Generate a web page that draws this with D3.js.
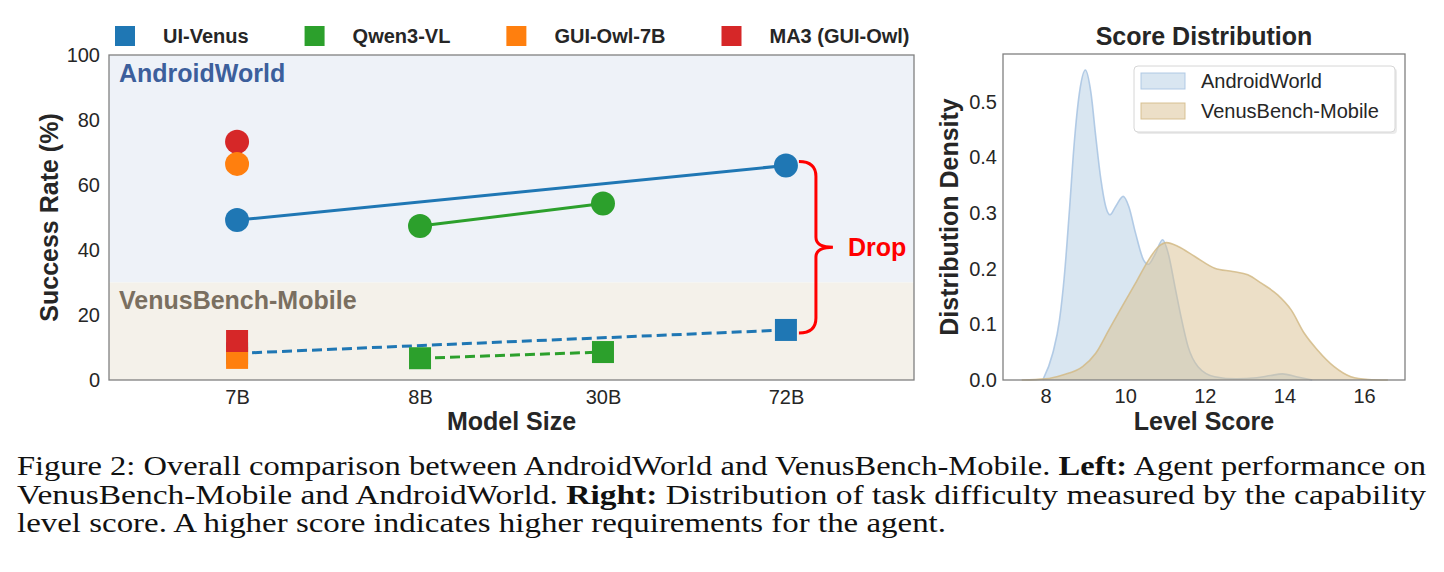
<!DOCTYPE html>
<html>
<head>
<meta charset="utf-8">
<script src="https://cdn.jsdelivr.net/npm/d3@7.9.0/dist/d3.min.js"></script>
<style>
  html, body { margin: 0; padding: 0; background: #fff; }
  svg { display: block; }
  .sans { font-family: "Liberation Sans", Arial, sans-serif; }
</style>
</head>
<body>
<svg id="fig" width="1444" height="572"></svg>
<script>
// ---- data ----
const sizes = ['7B', '8B', '30B', '72B'];
const models = ['UI-Venus', 'Qwen3-VL', 'GUI-Owl-7B', 'MA3 (GUI-Owl)'];
const modelColors = ['#1f77b4', '#2ca02c', '#ff7f0e', '#d62728'];

const uiVenusSizes = ['7B', '72B'];
const uiVenusAW = [49.2, 66.0];
const uiVenusVB = [8.2, 15.4];

const qwenSizes = ['8B', '30B'];
const qwenAW = [47.4, 54.3];
const qwenVB = [6.7, 8.6];

const guiOwlSizes = ['7B'];
const guiOwlAW = [66.5];
const guiOwlVB = [6.8];

const ma3Sizes = ['7B'];
const ma3AW = [73.3];
const ma3VB = [12.0];

const bandSplit = 30;
const yTicksLeft = [0, 20, 40, 60, 80, 100];

// KDE curves (level score, density)
const awScore = [7.93, 8.18, 8.35, 8.47, 8.6, 8.72, 8.85, 9.0, 9.14, 9.26, 9.39, 9.51, 9.62, 9.76, 9.95, 10.09, 10.26, 10.46, 10.58, 10.75, 10.94, 11.08, 11.25, 11.42, 11.58, 11.83, 12.25, 12.8, 13.3, 13.65, 13.95, 14.3, 14.7];
const awDensity = [0.0, 0.048, 0.108, 0.186, 0.306, 0.426, 0.516, 0.557, 0.516, 0.438, 0.36, 0.312, 0.297, 0.312, 0.33, 0.312, 0.264, 0.216, 0.208, 0.226, 0.252, 0.228, 0.168, 0.108, 0.06, 0.024, 0.006, 0.002, 0.004, 0.008, 0.011, 0.006, 0.0];

const vbScore = [7.4, 8.0, 8.43, 8.93, 9.26, 9.59, 9.92, 10.26, 10.59, 10.84, 11.04, 11.33, 11.75, 12.25, 12.7, 13.08, 13.42, 13.83, 14.17, 14.5, 14.83, 15.25, 15.67, 16.1, 16.6];
const vbDensity = [0.0, 0.002, 0.009, 0.024, 0.048, 0.09, 0.132, 0.174, 0.216, 0.24, 0.247, 0.24, 0.222, 0.201, 0.195, 0.189, 0.174, 0.153, 0.126, 0.084, 0.054, 0.024, 0.006, 0.001, 0.0];
const xTicksRight = [8, 10, 12, 14, 16];
const yTicksRight = [0, 0.1, 0.2, 0.3, 0.4, 0.5];

const captionLines = [
  [['Figure 2: Overall comparison between AndroidWorld and VenusBench-Mobile. ', false], ['Left:', true], [' Agent performance on', false]],
  [['VenusBench-Mobile and AndroidWorld. ', false], ['Right:', true], [' Distribution of task difficulty measured by the capability', false]],
  [['level score. A higher score indicates higher requirements for the agent.', false]]
];

// ---- drawing ----
const svg = d3.select('#fig');
const ink = '#262626';

// left panel
const L = { left: 109, right: 914, top: 55, bottom: 380 };
const x = d3.scalePoint().domain(sizes).range([L.left, L.right]).padding(0.7);
const y = d3.scaleLinear().domain([0, 100]).range([L.bottom, L.top]);
const color = d3.scaleOrdinal().domain(models).range(modelColors);

const left = svg.append('g').attr('class', 'sans');

left.append('rect')
  .attr('x', L.left).attr('y', y(100))
  .attr('width', L.right - L.left).attr('height', y(bandSplit) - y(100))
  .attr('fill', '#eef2f8');
left.append('rect')
  .attr('x', L.left).attr('y', y(bandSplit))
  .attr('width', L.right - L.left).attr('height', y(0) - y(bandSplit))
  .attr('fill', '#f4f1ea');

left.append('text')
  .attr('x', L.left + 10).attr('y', 82)
  .attr('font-size', 25).attr('font-weight', 'bold').attr('fill', '#3c5f9c')
  .text('AndroidWorld');
left.append('text')
  .attr('x', L.left + 10).attr('y', 309)
  .attr('font-size', 25).attr('font-weight', 'bold').attr('fill', '#7a6f60')
  .text('VenusBench-Mobile');

const yAxisL = left.append('g')
  .attr('transform', `translate(${L.left},0)`)
  .call(d3.axisLeft(y).tickValues(yTicksLeft).tickSize(0).tickPadding(9));
const xAxisL = left.append('g')
  .attr('transform', `translate(0,${L.bottom})`)
  .call(d3.axisBottom(x).tickSize(0).tickPadding(10));
[yAxisL, xAxisL].forEach(g => {
  g.select('.domain').remove();
  g.selectAll('text').attr('font-size', 20).attr('fill', ink)
    .attr('font-family', '"Liberation Sans", Arial, sans-serif');
});

left.append('rect')
  .attr('x', L.left).attr('y', L.top)
  .attr('width', L.right - L.left).attr('height', L.bottom - L.top)
  .attr('fill', 'none').attr('stroke', '#808080').attr('stroke-width', 1.3);

const series = [
  { model: 'UI-Venus', sizes: uiVenusSizes, aw: uiVenusAW, vb: uiVenusVB },
  { model: 'Qwen3-VL', sizes: qwenSizes, aw: qwenAW, vb: qwenVB },
  { model: 'GUI-Owl-7B', sizes: guiOwlSizes, aw: guiOwlAW, vb: guiOwlVB },
  { model: 'MA3 (GUI-Owl)', sizes: ma3Sizes, aw: ma3AW, vb: ma3VB }
];

const line = d3.line().x(d => x(d[0])).y(d => y(d[1]));
series.filter(s => s.sizes.length > 1).forEach(s => {
  left.append('path')
    .attr('d', line(s.sizes.map((k, i) => [k, s.aw[i]])))
    .attr('fill', 'none').attr('stroke', color(s.model)).attr('stroke-width', 3);
  left.append('path')
    .attr('d', line(s.sizes.map((k, i) => [k, s.vb[i]])))
    .attr('fill', 'none').attr('stroke', color(s.model)).attr('stroke-width', 3)
    .attr('stroke-dasharray', '10,5');
});

// markers: circle order puts GUI-Owl above MA3, square order the reverse
const circleOrder = ['UI-Venus', 'Qwen3-VL', 'MA3 (GUI-Owl)', 'GUI-Owl-7B'];
const squareOrder = ['UI-Venus', 'Qwen3-VL', 'GUI-Owl-7B', 'MA3 (GUI-Owl)'];
circleOrder.forEach(m => {
  const s = series.find(d => d.model === m);
  left.selectAll(null)
    .data(s.sizes.map((k, i) => [k, s.aw[i]]))
    .join('circle')
    .attr('cx', d => x(d[0])).attr('cy', d => y(d[1])).attr('r', 12)
    .attr('fill', color(m));
});
const sq = 22;
squareOrder.forEach(m => {
  const s = series.find(d => d.model === m);
  left.selectAll(null)
    .data(s.sizes.map((k, i) => [k, s.vb[i]]))
    .join('rect')
    .attr('x', d => x(d[0]) - sq / 2).attr('y', d => y(d[1]) - sq / 2)
    .attr('width', sq).attr('height', sq)
    .attr('fill', color(m));
});

// drop brace on the largest UI-Venus model
const bx = x('72B');
const yTop = y(uiVenusAW[1]) - 4;
const yBot = y(uiVenusVB[1]) + 3;
const x0 = bx + 13, xm = x0 + 17, xt = xm + 17, ym = (yTop + yBot) / 2;
const brace = d3.path();
brace.moveTo(x0, yTop);
brace.quadraticCurveTo(xm, yTop, xm, yTop + 15);
brace.lineTo(xm, ym - 10);
brace.quadraticCurveTo(xm, ym, xt, ym);
brace.quadraticCurveTo(xm, ym, xm, ym + 10);
brace.lineTo(xm, yBot - 15);
brace.quadraticCurveTo(xm, yBot, x0, yBot);
left.append('path').attr('d', brace.toString())
  .attr('fill', 'none').attr('stroke', '#ff0000').attr('stroke-width', 3);
left.append('text')
  .attr('x', xt + 15).attr('y', ym + 9)
  .attr('font-size', 25).attr('font-weight', 'bold').attr('fill', '#ff0000')
  .text('Drop');

// top legend
let lx = 115;
models.forEach(m => {
  left.append('rect').attr('x', lx).attr('y', 26).attr('width', 20).attr('height', 20)
    .attr('fill', color(m));
  const t = left.append('text').attr('x', lx + 48).attr('y', 43)
    .attr('font-size', 20).attr('font-weight', 'bold').attr('fill', ink).text(m);
  lx += 48 + t.node().getComputedTextLength() + 56;
});

left.append('text')
  .attr('transform', `translate(58,${(L.top + L.bottom) / 2}) rotate(-90)`)
  .attr('text-anchor', 'middle').attr('font-size', 25).attr('font-weight', 'bold')
  .attr('fill', ink).text('Success Rate (%)');
left.append('text')
  .attr('x', (L.left + L.right) / 2).attr('y', 430)
  .attr('text-anchor', 'middle').attr('font-size', 25).attr('font-weight', 'bold')
  .attr('fill', ink).text('Model Size');

// right panel
const R = { left: 1003, right: 1405, top: 54, bottom: 380 };
const xr = d3.scaleLinear().domain([6.93, 17.03]).range([R.left, R.right]);
const yr = d3.scaleLinear().domain([0, 0.586]).range([R.bottom, R.top]);
const right = svg.append('g').attr('class', 'sans');

const area = d3.area().curve(d3.curveMonotoneX)
  .x(d => xr(d[0])).y0(yr(0)).y1(d => yr(d[1]));
const edge = d3.line().curve(d3.curveMonotoneX)
  .x(d => xr(d[0])).y(d => yr(d[1]));
const kdes = [
  { name: 'AndroidWorld', pts: d3.zip(awScore, awDensity), fill: '#b3cde3', stroke: '#a7c3e2' },
  { name: 'VenusBench-Mobile', pts: d3.zip(vbScore, vbDensity), fill: '#d9c08f', stroke: '#d2ba86' }
];
kdes.forEach(k => {
  right.append('path').attr('d', area(k.pts))
    .attr('fill', k.fill).attr('fill-opacity', 0.5);
  right.append('path').attr('d', edge(k.pts))
    .attr('fill', 'none').attr('stroke', k.stroke).attr('stroke-width', 1.6)
    .attr('stroke-opacity', 0.85);
});

const yAxisR = right.append('g')
  .attr('transform', `translate(${R.left},0)`)
  .call(d3.axisLeft(yr).tickValues(yTicksRight).tickFormat(d3.format('.1f')).tickSize(0).tickPadding(6));
const xAxisR = right.append('g')
  .attr('transform', `translate(0,${R.bottom})`)
  .call(d3.axisBottom(xr).tickValues(xTicksRight).tickSize(0).tickPadding(9));
[yAxisR, xAxisR].forEach(g => {
  g.select('.domain').remove();
  g.selectAll('text').attr('font-size', 20).attr('fill', ink)
    .attr('font-family', '"Liberation Sans", Arial, sans-serif');
});

right.append('rect')
  .attr('x', R.left).attr('y', R.top)
  .attr('width', R.right - R.left).attr('height', R.bottom - R.top)
  .attr('fill', 'none').attr('stroke', '#808080').attr('stroke-width', 1.3);

// legend box
right.append('rect').attr('x', 1136).attr('y', 68).attr('width', 261).attr('height', 66)
  .attr('rx', 4).attr('fill', '#000').attr('fill-opacity', 0.08);
right.append('rect').attr('x', 1134).attr('y', 66).attr('width', 261).attr('height', 66)
  .attr('rx', 4).attr('fill', '#fff').attr('stroke', '#d6d6d6');
kdes.forEach((k, i) => {
  right.append('rect').attr('x', 1141).attr('y', 73 + i * 30).attr('width', 44).attr('height', 16)
    .attr('fill', k.fill).attr('fill-opacity', 0.5).attr('stroke', k.stroke).attr('stroke-opacity', 0.85);
  right.append('text').attr('x', 1201).attr('y', 88 + i * 30)
    .attr('font-size', 20).attr('fill', ink).text(k.name);
});

right.append('text')
  .attr('x', (R.left + R.right) / 2).attr('y', 45)
  .attr('text-anchor', 'middle').attr('font-size', 25).attr('font-weight', 'bold')
  .attr('fill', ink).text('Score Distribution');
right.append('text')
  .attr('transform', `translate(958,${(R.top + R.bottom) / 2}) rotate(-90)`)
  .attr('text-anchor', 'middle').attr('font-size', 25).attr('font-weight', 'bold')
  .attr('fill', ink).text('Distribution Density');
right.append('text')
  .attr('x', (R.left + R.right) / 2).attr('y', 430)
  .attr('text-anchor', 'middle').attr('font-size', 25).attr('font-weight', 'bold')
  .attr('fill', ink).text('Level Score');

// caption
const capWidths = [1409, 1409, 929];
const cap = svg.append('g')
  .attr('font-family', '"Liberation Serif", "Times New Roman", serif')
  .attr('font-size', 27).attr('fill', '#111');
captionLines.forEach((parts, i) => {
  const t = cap.append('text').attr('x', 17).attr('y', 475 + i * 28.5)
    .attr('textLength', capWidths[i]).attr('lengthAdjust', 'spacingAndGlyphs');
  parts.forEach(([s, b]) => {
    t.append('tspan').attr('font-weight', b ? 'bold' : 'normal').text(s);
  });
});
</script>
</body>
</html>
